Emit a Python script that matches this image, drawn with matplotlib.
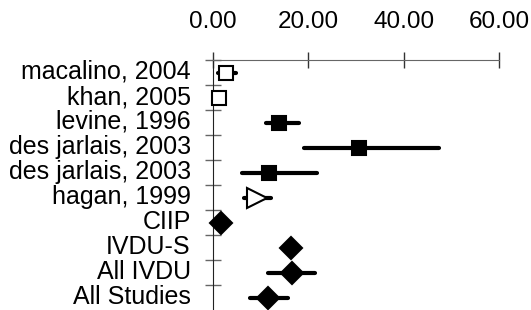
import matplotlib
matplotlib.use("Agg")
import matplotlib.pyplot as plt
import matplotlib.transforms as mtransforms

# Datos
estudios = ["macalino, 2004", "khan, 2005", "levine, 1996", "des jarlais, 2003",
            "des jarlais, 2003", "hagan, 1999", "CIIP", "IVDU-S", "All IVDU", "All Studies"]
efecto = [2.7, 1.3, 13.9, 30.7, 11.8, 9.2, 1.6, 16.3, 16.6, 11.6]
ic_inf = [1.0, 0.8, 11.1, 19.0, 6.1, 6.6, 1.2, 15.6, 11.6, 7.8]
ic_sup = [4.8, 1.9, 18.1, 47.4, 21.9, 12.2, 2.1, 17.0, 21.4, 15.7]
marcadores = ["s", "s", "s", "s", "s", ">", "D", "D", "D", "D"]
relleno = ["white", "white", "black", "black", "black", "white", "black", "black", "black", "black"]
tam = [10.5, 10.5, 10.5, 10.5, 10.5, 14, 11, 11, 11, 11]
xticks = [0, 20, 40, 60]

plt.rcParams["font.family"] = ["Liberation Sans", "DejaVu Sans"]

fig = plt.figure(figsize=(5.31, 3.10), dpi=100)
ax = fig.add_axes([213 / 531, 0.0, 286 / 531, 250 / 310])

for i in range(len(estudios)):
    ax.plot([ic_inf[i], ic_sup[i]], [i, i], color="black", lw=3,
            solid_capstyle="round", zorder=2, clip_on=False)
    ax.plot(efecto[i], i, marker=marcadores[i], ms=tam[i], mfc=relleno[i],
            mec="black", mew=1.5, linestyle="none", zorder=3, clip_on=False)

ax.set_xlim(0, 60)
ax.set_ylim(len(estudios) - 0.5, -0.5)

ax.xaxis.tick_top()
ax.set_xticks(xticks)
ax.set_xticklabels([f"{v:.2f}" for v in xticks], fontsize=17.5)
ax.tick_params(axis="x", direction="inout", length=11, width=1, color="#333333", pad=14)

ax.set_yticks(range(len(estudios)))
ax.set_yticklabels(estudios, fontsize=18)
ax.tick_params(axis="y", which="major", length=0, pad=16)
ax.set_yticks([i - 0.5 for i in range(len(estudios))], minor=True)
ax.tick_params(axis="y", which="minor", direction="inout", length=11, width=1, color="#666666")

# subir un poco las etiquetas
despl = mtransforms.ScaledTranslation(0, 3 / 100, fig.dpi_scale_trans)
for etiqueta in ax.get_yticklabels():
    etiqueta.set_transform(etiqueta.get_transform() + despl)

for lado in ["right", "bottom"]:
    ax.spines[lado].set_visible(False)
ax.spines["top"].set_color("#666666")
ax.spines["left"].set_color("#222222")

fig.savefig("out.png", dpi=100)
